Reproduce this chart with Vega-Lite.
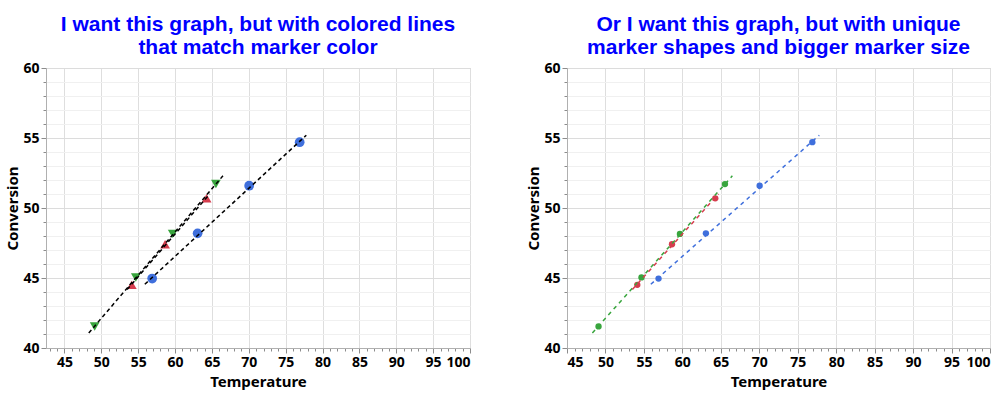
{
  "$schema": "https://vega.github.io/schema/vega-lite/v6.json",
  "background": "white",
  "padding": {"left": 5, "top": 13, "right": 2, "bottom": 4},
  "spacing": 55,
  "datasets": {
    "points": [
      {"group": "G1", "temp": 56.9, "conv": 44.96},
      {"group": "G1", "temp": 63.06, "conv": 48.19},
      {"group": "G1", "temp": 70.05, "conv": 51.59},
      {"group": "G1", "temp": 76.9, "conv": 54.7},
      {"group": "G2", "temp": 54.14, "conv": 44.51},
      {"group": "G2", "temp": 58.65, "conv": 47.41},
      {"group": "G2", "temp": 64.28, "conv": 50.69},
      {"group": "G3", "temp": 49.1, "conv": 41.54},
      {"group": "G3", "temp": 54.68, "conv": 45.04},
      {"group": "G3", "temp": 59.68, "conv": 48.15},
      {"group": "G3", "temp": 65.54, "conv": 51.71}
    ],
    "fits": [
      {"group": "G3", "temp": 48.3, "conv": 41.07},
      {"group": "G3", "temp": 66.5, "conv": 52.3},
      {"group": "G2", "temp": 53.5, "conv": 44.18},
      {"group": "G2", "temp": 64.7, "conv": 51.0},
      {"group": "G1", "temp": 55.9, "conv": 44.55},
      {"group": "G1", "temp": 77.8, "conv": 55.2}
    ]
  },
  "resolve": {"scale": {"x": "independent", "y": "independent"}},
  "hconcat": [
    {
      "width": 424,
      "height": 280,
      "title": {"text": ["I want this graph, but with colored lines", "that match marker color"]},
      "layer": [
        {
          "data": {"name": "points"},
          "mark": {"type": "point", "filled": true, "opacity": 1, "size": 95},
          "encoding": {
            "x": {
              "field": "temp", "type": "quantitative",
              "scale": {"domain": [42.5, 100], "nice": false, "zero": false},
              "axis": {
                "title": "Temperature",
                "format": "d",
                "tickCount": 200,
                "values": [43,44,45,46,47,48,49,50,51,52,53,54,55,56,57,58,59,60,61,62,63,64,65,66,67,68,69,70,71,72,73,74,75,76,77,78,79,80,81,82,83,84,85,86,87,88,89,90,91,92,93,94,95,96,97,98,99,100],
                "labelExpr": "datum.value % 5 === 0 ? datum.label : ''",
                "gridOpacity": {"condition": {"test": "datum.value % 5 === 0", "value": 1}, "value": 0},
                "tickSize": {"condition": {"test": "datum.value % 5 === 0", "value": 5}, "value": 3}
              }
            },
            "y": {
              "field": "conv", "type": "quantitative",
              "scale": {"domain": [40, 60], "nice": false, "zero": false},
              "axis": {
                "title": "Conversion",
                "titlePadding": 2,
                "format": "d",
                "tickCount": 200,
                "values": [40,41,42,43,44,45,46,47,48,49,50,51,52,53,54,55,56,57,58,59,60],
                "labelExpr": "datum.value % 5 === 0 ? datum.label : ''",
                "gridColor": {"condition": {"test": "datum.value % 5 === 0", "value": "#dcdcdc"}, "value": "#f0f0f0"},
                "tickSize": {"condition": {"test": "datum.value % 5 === 0", "value": 5}, "value": 3}
              }
            },
            "color": {
              "field": "group", "type": "nominal",
              "scale": {"domain": ["G1", "G2", "G3"], "range": ["#3f6fdc", "#d63d4e", "#38a53d"]},
              "legend": null
            },
            "shape": {
              "field": "group", "type": "nominal",
              "scale": {"domain": ["G1", "G2", "G3"], "range": ["circle", "triangle-up", "triangle-down"]},
              "legend": null
            }
          }
        },
        {
          "data": {"name": "fits"},
          "mark": {"type": "line", "color": "black", "strokeDash": [4, 3], "strokeWidth": 1.5},
          "encoding": {
            "x": {"field": "temp", "type": "quantitative"},
            "y": {"field": "conv", "type": "quantitative"},
            "detail": {"field": "group"}
          }
        }
      ]
    },
    {
      "width": 423,
      "height": 280,
      "title": {"text": ["Or I want this graph, but with unique", "marker shapes and bigger marker size"]},
      "layer": [
        {
          "data": {"name": "points"},
          "mark": {"type": "circle", "opacity": 1, "size": 40},
          "encoding": {
            "x": {
              "field": "temp", "type": "quantitative",
              "scale": {"domain": [45, 100], "nice": false, "zero": false},
              "axis": {
                "title": "Temperature",
                "format": "d",
                "tickCount": 200,
                "values": [45,46,47,48,49,50,51,52,53,54,55,56,57,58,59,60,61,62,63,64,65,66,67,68,69,70,71,72,73,74,75,76,77,78,79,80,81,82,83,84,85,86,87,88,89,90,91,92,93,94,95,96,97,98,99,100],
                "labelExpr": "datum.value % 5 === 0 ? datum.label : ''",
                "gridOpacity": {"condition": {"test": "datum.value % 5 === 0", "value": 1}, "value": 0},
                "tickSize": {"condition": {"test": "datum.value % 5 === 0", "value": 5}, "value": 3}
              }
            },
            "y": {
              "field": "conv", "type": "quantitative",
              "scale": {"domain": [40, 60], "nice": false, "zero": false},
              "axis": {
                "title": "Conversion",
                "titlePadding": 2,
                "format": "d",
                "tickCount": 200,
                "values": [40,41,42,43,44,45,46,47,48,49,50,51,52,53,54,55,56,57,58,59,60],
                "labelExpr": "datum.value % 5 === 0 ? datum.label : ''",
                "gridColor": {"condition": {"test": "datum.value % 5 === 0", "value": "#dcdcdc"}, "value": "#f0f0f0"},
                "tickSize": {"condition": {"test": "datum.value % 5 === 0", "value": 5}, "value": 3}
              }
            },
            "color": {
              "field": "group", "type": "nominal",
              "scale": {"domain": ["G1", "G2", "G3"], "range": ["#3f6fdc", "#d63d4e", "#38a53d"]},
              "legend": null
            }
          }
        },
        {
          "data": {"name": "fits"},
          "mark": {"type": "line", "strokeDash": [4, 4], "strokeWidth": 1.5},
          "encoding": {
            "x": {"field": "temp", "type": "quantitative"},
            "y": {"field": "conv", "type": "quantitative"},
            "color": {"field": "group", "type": "nominal", "legend": null},
            "detail": {"field": "group"}
          }
        }
      ]
    }
  ],
  "config": {
    "font": "Noto Sans",
    "view": {"stroke": "#c8c8c8", "strokeWidth": 1},
    "axis": {
      "labelFont": "Noto Sans",
      "labelFontWeight": "bold",
      "labelFontSize": 14,
      "labelColor": "black",
      "labelPadding": 2,
      "labelOverlap": false,
      "titleFont": "Noto Sans",
      "titleFontWeight": "bold",
      "titleFontSize": 15,
      "titleColor": "black",
      "titlePadding": 5,
      "domainColor": "#b0b0b0",
      "tickColor": "#8c8c8c",
      "gridColor": "#dedede"
    },
    "title": {
      "font": "Liberation Sans",
      "fontSize": 21,
      "fontWeight": "bold",
      "color": "#0000ff",
      "anchor": "middle",
      "lineHeight": 23.5,
      "offset": 3
    }
  }
}
